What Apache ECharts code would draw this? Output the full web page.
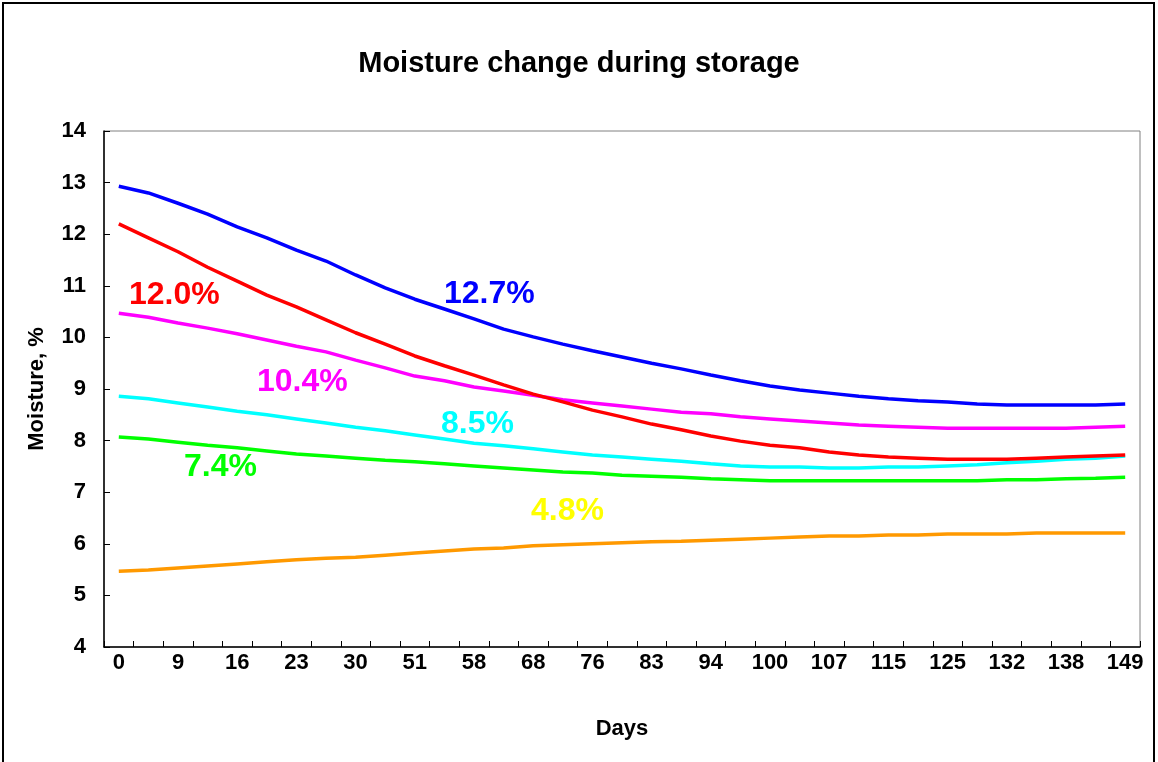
<!DOCTYPE html>
<html>
<head>
<meta charset="utf-8">
<script src="https://cdn.jsdelivr.net/npm/echarts@6/dist/echarts.min.js"></script>
<style>html,body{margin:0;padding:0;background:#fff}#c{width:1158px;height:762px}</style>
</head>
<body>
<div id="c"></div>
<script>
// Day of each measurement (only every second one is labelled on the axis)
const days = [0,4,9,12,16,19,23,26,30,40,51,54,58,63,68,72,76,80,83,89,94,97,100,104,107,111,115,120,125,128,132,135,138,143,149];
const tickLabels = ['0','9','16','23','30','51','58','68','76','83','94','100','107','115','125','132','138','149'];

const s127 = [12.93,12.80,12.60,12.39,12.14,11.93,11.69,11.48,11.21,10.96,10.74,10.55,10.36,10.16,10.01,9.87,9.74,9.62,9.50,9.39,9.27,9.16,9.06,8.98,8.92,8.86,8.81,8.77,8.75,8.71,8.69,8.69,8.69,8.69,8.71];
const s120 = [12.20,11.93,11.66,11.36,11.09,10.82,10.59,10.34,10.09,9.87,9.64,9.45,9.27,9.08,8.90,8.75,8.59,8.46,8.32,8.21,8.09,7.99,7.91,7.86,7.78,7.72,7.68,7.66,7.64,7.64,7.64,7.66,7.68,7.70,7.72];
const s104 = [10.47,10.39,10.28,10.18,10.07,9.95,9.83,9.72,9.56,9.41,9.25,9.16,9.04,8.96,8.88,8.79,8.73,8.67,8.61,8.55,8.52,8.46,8.42,8.38,8.34,8.30,8.28,8.26,8.24,8.24,8.24,8.24,8.24,8.26,8.28];
const s85 = [8.86,8.81,8.73,8.65,8.57,8.50,8.42,8.34,8.26,8.19,8.11,8.03,7.95,7.90,7.84,7.78,7.72,7.68,7.64,7.60,7.55,7.51,7.49,7.49,7.47,7.47,7.49,7.49,7.51,7.53,7.57,7.60,7.64,7.66,7.70];
const s74 = [8.07,8.03,7.97,7.91,7.86,7.80,7.74,7.70,7.66,7.62,7.59,7.55,7.51,7.47,7.43,7.39,7.37,7.33,7.31,7.29,7.26,7.24,7.22,7.22,7.22,7.22,7.22,7.22,7.22,7.22,7.24,7.24,7.26,7.27,7.29];
const s48 = [5.47,5.49,5.53,5.57,5.61,5.65,5.69,5.72,5.74,5.78,5.82,5.86,5.90,5.92,5.96,5.98,6.00,6.02,6.04,6.05,6.07,6.09,6.11,6.13,6.15,6.15,6.17,6.17,6.19,6.19,6.19,6.21,6.21,6.21,6.21];

const seriesNames = ['12.7%','12.0%','10.4%','8.5%','7.4%','4.8%'];
const yTicks = [4,5,6,7,8,9,10,11,12,13,14];

const FONT = 'Liberation Sans, Arial, sans-serif';
const chart = echarts.init(document.getElementById('c'), null, {renderer: 'canvas'});

function line(name, data, color) {
  return {
    name: name, type: 'line', data: data, symbol: 'none', smooth: false,
    lineStyle: {color: color, width: 3.5}, itemStyle: {color: color}, z: 3
  };
}
function note(text, x, y, color) {
  return {
    type: 'text', left: x, top: y, z: 10,
    style: {text: text, fill: color, font: 'bold 32px ' + FONT}
  };
}

chart.setOption({
  animation: false,
  backgroundColor: '#ffffff',
  title: {
    text: 'Moisture change during storage',
    left: 'center', top: 44,
    textStyle: {fontFamily: FONT, fontWeight: 'bold', fontSize: 29, color: '#000'}
  },
  grid: {left: 104, right: 18, top: 131, bottom: 115, show: true, borderColor: '#808080', borderWidth: 1, backgroundColor: 'transparent'},
  xAxis: {
    type: 'category', data: days, boundaryGap: true,
    name: 'Days', nameLocation: 'middle', nameGap: 71,
    nameTextStyle: {fontFamily: FONT, fontWeight: 'bold', fontSize: 22, color: '#000'},
    axisLine: {lineStyle: {color: '#000', width: 1.5}},
    axisTick: {show: true, inside: true, length: 6, interval: 0, alignWithLabel: false, lineStyle: {color: '#000'}},
    axisLabel: {
      interval: 1, margin: 5, color: '#000', fontFamily: FONT, fontWeight: 'bold', fontSize: 22,
      formatter: function (v, i) { return i % 2 === 0 ? tickLabels[i / 2] : ''; }
    },
    splitLine: {show: false}
  },
  yAxis: {
    type: 'value', min: yTicks[0], max: yTicks[yTicks.length - 1], interval: 1,
    name: 'Moisture, %', nameLocation: 'middle', nameGap: 56,
    nameTextStyle: {fontFamily: FONT, fontWeight: 'bold', fontSize: 22, color: '#000'},
    axisLine: {show: true, lineStyle: {color: '#000', width: 1.5}},
    axisTick: {show: true, inside: true, length: 6, lineStyle: {color: '#000'}},
    axisLabel: {margin: 18, color: '#000', fontFamily: FONT, fontWeight: 'bold', fontSize: 22},
    splitLine: {show: false}
  },
  series: [
    line(seriesNames[4], s74, '#00ff00'),
    line(seriesNames[3], s85, '#00ffff'),
    line(seriesNames[2], s104, '#ff00ff'),
    line(seriesNames[1], s120, '#ff0000'),
    line(seriesNames[0], s127, '#0000ff'),
    line(seriesNames[5], s48, '#ff9900')
  ],
  graphic: [
    {type: 'rect', shape: {x: 3, y: 3, width: 1151, height: 800}, style: {fill: 'none', stroke: '#000', lineWidth: 2}, z: 0},
    note(seriesNames[1], 129, 279, '#ff0000'),
    note(seriesNames[0], 444, 278, '#0000ff'),
    note(seriesNames[2], 257, 366, '#ff00ff'),
    note(seriesNames[3], 441, 408, '#00ffff'),
    note(seriesNames[4], 184, 451, '#00ff00'),
    note(seriesNames[5], 531, 495, '#ffff00')
  ]
});
</script>
</body>
</html>
